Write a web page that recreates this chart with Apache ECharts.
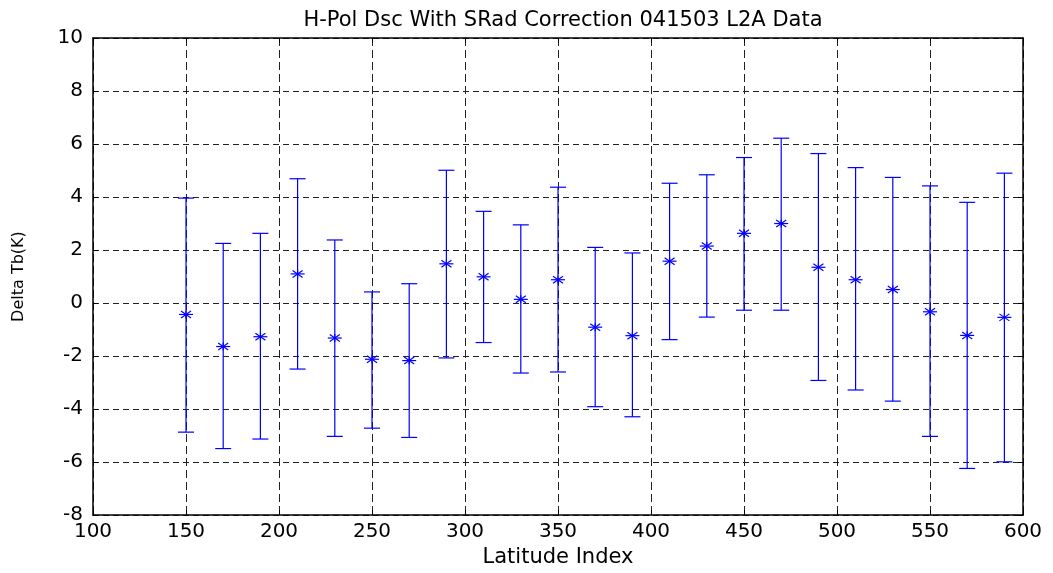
<!DOCTYPE html>
<html>
<head>
<meta charset="utf-8">
<script src="https://cdn.jsdelivr.net/npm/echarts@6/dist/echarts.min.js"></script>
<style>
html,body{margin:0;padding:0;background:#fff;}
#chart{width:1053px;height:573px;}
</style>
</head>
<body>
<div id="chart"></div>
<script>
var latitudeIndex = [150,170,190,210,230,250,270,290,310,330,350,370,390,410,430,450,470,490,510,530,550,570,590];
var meanValues = [-0.43,-1.64,-1.27,1.10,-1.32,-2.12,-2.17,1.48,0.99,0.14,0.88,-0.91,-1.23,1.58,2.15,2.63,3.00,1.35,0.88,0.51,-0.33,-1.22,-0.54];
var upperValues = [3.96,2.25,2.63,4.69,2.38,0.42,0.73,5.01,3.46,2.95,4.37,2.10,1.89,4.52,4.84,5.49,6.22,5.64,5.11,4.74,4.42,3.80,4.90];
var lowerValues = [-4.87,-5.49,-5.13,-2.49,-5.03,-4.72,-5.07,-2.07,-1.49,-2.64,-2.60,-3.91,-4.29,-1.38,-0.53,-0.27,-0.27,-2.92,-3.28,-3.70,-5.03,-6.24,-5.99];
var titleText = 'H-Pol Dsc With SRad Correction 041503 L2A Data';
var xName = 'Latitude Index';
var yName = 'Delta Tb(K)';

var rows = latitudeIndex.map(function(x, i){ return [x, meanValues[i], lowerValues[i], upperValues[i]]; });

var BLUE = '#0000ff';
var labelFont = {color:'#000', fontFamily:'DejaVu Sans', fontSize:20};

function renderErr(params, api){
  var x = api.value(0);
  var pm = api.coord([x, api.value(1)]);
  var pl = api.coord([x, api.value(2)]);
  var ph = api.coord([x, api.value(3)]);
  var cw = 8;
  var st = {stroke: BLUE, lineWidth: 1.2};
  var cx = pm[0], cy = pm[1];
  return {
    type:'group',
    children:[
      {type:'line', shape:{x1:pl[0], y1:pl[1], x2:ph[0], y2:ph[1]}, style:st},
      {type:'line', shape:{x1:pl[0]-cw, y1:pl[1], x2:pl[0]+cw, y2:pl[1]}, style:st},
      {type:'line', shape:{x1:ph[0]-cw, y1:ph[1], x2:ph[0]+cw, y2:ph[1]}, style:st},
      {type:'line', shape:{x1:cx-7, y1:cy, x2:cx+7, y2:cy}, style:st},
      {type:'line', shape:{x1:cx, y1:cy-4, x2:cx, y2:cy+4}, style:st},
      {type:'line', shape:{x1:cx-5, y1:cy-3.5, x2:cx+5, y2:cy+3.5}, style:st},
      {type:'line', shape:{x1:cx-5, y1:cy+3.5, x2:cx+5, y2:cy-3.5}, style:st}
    ]
  };
}

var chart = echarts.init(document.getElementById('chart'), null, {renderer:'canvas'});
chart.setOption({
  backgroundColor:'#fff',
  animation:false,
  title:{
    text:titleText, left:558, top:5, textAlign:'center',
    textStyle:{color:'#000', fontFamily:'DejaVu Sans', fontSize:21, fontWeight:'normal'}
  },
  grid:{left:93, right:30, top:38, bottom:53, containLabel:false},
  xAxis:[{
    type:'value', min:100, max:600, interval:50,
    name:xName, nameLocation:'middle', nameGap:27,
    nameTextStyle:{color:'#000', fontFamily:'DejaVu Sans', fontSize:21},
    axisLine:{show:true, onZero:false, lineStyle:{color:'#000', width:1.5}},
    axisTick:{show:true, inside:true, length:5, lineStyle:{color:'#000'}},
    axisLabel:Object.assign({margin:7}, labelFont),
    splitLine:{show:true, lineStyle:{color:'#222', type:[8,4], width:1}}
  },{
    type:'value', min:100, max:600, interval:50, position:'top',
    axisLine:{show:true, onZero:false, lineStyle:{color:'#000', width:1.5}},
    axisTick:{show:true, inside:true, length:5, lineStyle:{color:'#000'}},
    axisLabel:{show:false}, splitLine:{show:false}
  }],
  yAxis:[{
    type:'value', min:-8, max:10, interval:2,
    name:yName, nameLocation:'middle', nameGap:66, nameRotate:90,
    nameTextStyle:{color:'#000', fontFamily:'DejaVu Sans', fontSize:16},
    axisLine:{show:true, onZero:false, lineStyle:{color:'#000', width:1.5}},
    axisTick:{show:true, inside:true, length:5, lineStyle:{color:'#000'}},
    axisLabel:Object.assign({margin:10}, labelFont),
    splitLine:{show:true, lineStyle:{color:'#222', type:[6,4], width:1}}
  },{
    type:'value', min:-8, max:10, interval:2, position:'right',
    axisLine:{show:true, onZero:false, lineStyle:{color:'#000', width:1.5}},
    axisTick:{show:true, inside:true, length:5, lineStyle:{color:'#000'}},
    axisLabel:{show:false}, splitLine:{show:false}
  }],
  series:[{
    type:'custom',
    xAxisIndex:0, yAxisIndex:0,
    renderItem:renderErr,
    encode:{x:0, y:[1,2,3]},
    data:rows,
    clip:false,
    z:5
  }]
});
</script>
</body>
</html>
